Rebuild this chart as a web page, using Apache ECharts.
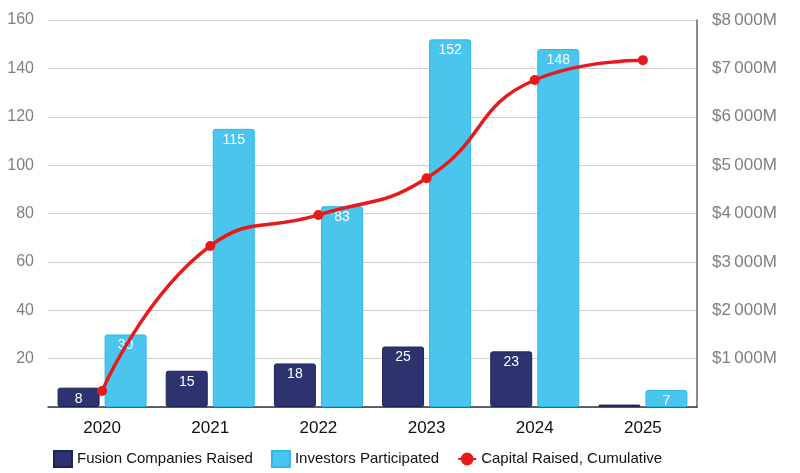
<!DOCTYPE html>
<html>
<head>
    <meta charset="utf-8">
    <title>Fusion funding</title>
    <script src="https://cdn.jsdelivr.net/npm/echarts@6/dist/echarts.min.js"></script>
    <style>
        html, body { margin: 0; padding: 0; background: #fff; }
        #main { width: 800px; height: 473px; }
    </style>
</head>
<body>
<div id="main"></div>
<script type="text/javascript">
    // data
    var years = ['2020', '2021', '2022', '2023', '2024', '2025'];
    var companiesRaised = [8, 15, 18, 25, 23, 1];
    var investorsParticipated = [30, 115, 83, 152, 148, 7];
    var capitalCumulative = [330, 3330, 3970, 4730, 6760, 7170]; // $M

    var FONT = '"Liberation Sans", Arial, Helvetica, sans-serif';

    function money(v) {
        if (v === 0) return '';
        var s = String(v);
        if (v >= 1000) s = s.slice(0, s.length - 3) + '\u2009' + s.slice(-3);
        return '$' + s + 'M';
    }

    var barLabel = {
        show: true,
        position: 'insideTop',
        distance: 4,
        color: '#fff',
        fontSize: 14,
        fontFamily: FONT
    };

    var myChart = echarts.init(document.getElementById('main'));
    myChart.setOption({
        animation: false,
        textStyle: { fontFamily: FONT },
        grid: { left: 48, right: 103, top: 20, bottom: 66 },
        legend: {
            left: 48,
            bottom: 0,
            itemWidth: 18,
            itemHeight: 16,
            itemGap: 18,
            textStyle: { color: '#111', fontSize: 15, fontFamily: FONT },
            data: [
                { name: 'Fusion Companies Raised', icon: 'rect' },
                { name: 'Investors Participated', icon: 'rect' },
                { name: 'Capital Raised, Cumulative' }
            ]
        },
        xAxis: {
            type: 'category',
            data: years,
            axisLine: { lineStyle: { color: '#333', width: 1.5 } },
            axisTick: { show: false },
            axisLabel: { color: '#111', fontSize: 17, margin: 13, fontFamily: FONT }
        },
        yAxis: [{
            type: 'value',
            min: 0,
            max: 160,
            interval: 20,
            axisLine: { show: false },
            axisTick: { show: false },
            splitLine: { lineStyle: { color: '#d0d0d0', width: 1 } },
            axisLabel: {
                color: '#808080', fontSize: 16, margin: 14, fontFamily: FONT,
                formatter: function (v) { return v === 0 ? '' : v; }
            }
        }, {
            type: 'value',
            min: 0,
            max: 8000,
            interval: 1000,
            position: 'right',
            axisLine: { show: true, lineStyle: { color: '#666', width: 1.5 } },
            axisTick: { show: false },
            splitLine: { show: false },
            axisLabel: {
                color: '#808080', fontSize: 17, margin: 15, fontFamily: FONT,
                formatter: money
            }
        }],
        series: [{
            name: 'Fusion Companies Raised',
            type: 'bar',
            barWidth: 42,
            barGap: '12%',
            data: companiesRaised.map(function (v) {
                return v < 3 ? { value: v, label: { show: false } } : v;
            }),
            itemStyle: { color: '#2d336e', borderColor: '#1f2458', borderWidth: 1, borderRadius: 2 },
            label: barLabel
        }, {
            name: 'Investors Participated',
            type: 'bar',
            barWidth: 42,
            data: investorsParticipated,
            itemStyle: { color: '#49c5ee', borderColor: '#2fb8e8', borderWidth: 1, borderRadius: 2 },
            label: barLabel
        }, {
            name: 'Capital Raised, Cumulative',
            type: 'line',
            yAxisIndex: 1,
            smooth: true,
            data: capitalCumulative,
            symbol: 'circle',
            symbolSize: 10,
            lineStyle: { color: '#e8191b', width: 3.5 },
            itemStyle: { color: '#e8191b' },
            z: 5
        }]
    });
</script>
</body>
</html>
